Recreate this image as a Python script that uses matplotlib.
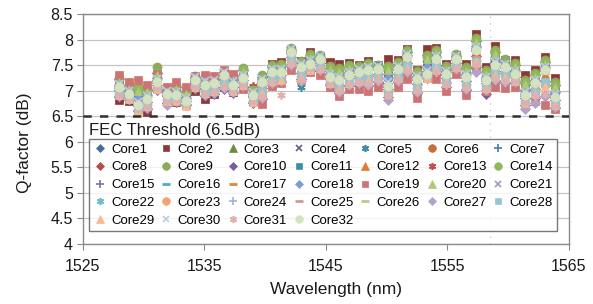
import matplotlib
matplotlib.use("Agg")
import matplotlib.pyplot as plt
import matplotlib.transforms as mtransforms

plt.rcParams["font.family"] = ["Liberation Sans", "DejaVu Sans"]

# --------------------------------------------------
# Data: Q-factor per core over 46 WDM channels (100 GHz grid)
# --------------------------------------------------
wavelength = [1527.99, 1528.77, 1529.55, 1530.33, 1531.12, 1531.90, 1532.68, 1533.47,
              1534.25, 1535.04, 1535.82, 1536.61, 1537.40, 1538.19, 1538.98, 1539.77,
              1540.56, 1541.35, 1542.14, 1542.94, 1543.73, 1544.53, 1545.32, 1546.12,
              1546.92, 1547.72, 1548.51, 1549.32, 1550.12, 1550.92, 1551.72, 1552.52,
              1553.33, 1554.13, 1554.94, 1555.75, 1556.55, 1557.36, 1558.17, 1558.98,
              1559.79, 1560.61, 1561.42, 1562.23, 1563.05, 1563.86]

core1 = [7.23,7.08,6.91,7.02,7.35,7.01,7.07,6.91,7.26,7.24,7.23,7.36,7.25,7.40,7.03,7.26,7.46,7.50,7.80,7.55,7.68,7.66,7.45,7.42,7.46,7.45,7.51,7.48,7.46,7.52,7.75,7.35,7.69,7.76,7.45,7.68,7.44,7.98,7.37,7.75,7.56,7.51,7.18,7.31,7.57,7.12]
core2 = [6.82,6.79,6.66,6.58,7.05,6.80,6.78,6.74,6.99,6.84,6.93,7.08,6.98,7.12,6.80,6.95,7.53,7.57,7.80,7.58,7.75,7.68,7.56,7.53,7.55,7.51,7.58,7.50,7.62,7.59,7.82,7.41,7.82,7.83,7.53,7.70,7.53,8.11,7.46,7.88,7.60,7.60,7.31,7.41,7.66,7.25]
core3 = [7.19,7.06,7.02,7.00,7.33,7.00,7.05,6.95,7.23,7.21,7.21,7.33,7.23,7.38,7.00,7.23,7.44,7.47,7.77,7.52,7.66,7.63,7.43,7.39,7.44,7.42,7.49,7.45,7.42,7.50,7.73,7.32,7.63,7.73,7.43,7.65,7.41,7.97,7.34,7.73,7.53,7.49,7.15,7.29,7.54,7.10]
core4 = [7.15,7.02,6.89,6.94,7.27,6.99,7.00,6.89,7.24,7.18,7.19,7.34,7.19,7.33,6.98,7.22,7.42,7.43,7.78,7.53,7.61,7.64,7.37,7.32,7.39,7.41,7.46,7.46,7.30,7.49,7.72,7.29,7.50,7.69,7.40,7.66,7.36,7.90,7.29,7.64,7.52,7.43,7.05,7.23,7.49,7.01]
core5 = [6.90,6.84,6.66,6.66,7.03,6.78,6.80,6.73,7.06,6.92,6.96,7.05,6.97,7.10,6.77,6.86,7.14,7.18,7.51,7.07,7.41,7.40,7.13,6.98,7.11,7.14,7.11,7.18,6.90,7.18,7.36,6.97,7.26,7.34,7.09,7.42,7.03,7.49,7.02,7.20,7.17,7.16,6.73,6.87,6.92,6.68]
core6 = [7.11,6.98,6.85,6.90,7.23,6.95,6.96,6.85,7.20,7.14,7.15,7.30,7.15,7.29,6.94,7.18,7.38,7.39,7.74,7.47,7.57,7.60,7.33,7.28,7.35,7.37,7.42,7.42,7.24,7.45,7.68,7.25,7.46,7.65,7.36,7.62,7.32,7.86,7.25,7.60,7.48,7.39,7.01,7.19,7.45,6.97]
core7 = [7.10,6.97,6.74,6.87,7.19,6.97,6.94,6.82,7.23,7.15,7.17,7.32,7.15,7.28,6.94,7.20,7.39,7.39,7.77,7.49,7.56,7.63,7.30,7.23,7.33,7.39,7.43,7.45,7.13,7.46,7.69,7.26,7.36,7.65,7.36,7.64,7.30,7.82,7.23,7.54,7.49,7.36,6.94,7.17,7.43,6.91]
core8 = [7.01,6.92,6.70,6.78,7.12,6.89,6.88,6.79,7.16,7.05,7.08,7.20,7.08,7.21,6.87,7.05,7.28,7.30,7.66,7.35,7.50,7.54,7.23,7.12,7.24,7.28,7.29,7.33,7.03,7.33,7.54,7.13,7.33,7.51,7.24,7.55,7.18,7.67,7.14,7.39,7.35,7.27,6.85,7.03,7.19,6.81]
core9 = [7.25,7.12,7.08,7.06,7.46,7.05,7.11,7.01,7.29,7.27,7.27,7.39,7.29,7.44,7.06,7.31,7.50,7.53,7.83,7.58,7.72,7.69,7.49,7.45,7.50,7.48,7.55,7.51,7.48,7.56,7.79,7.38,7.69,7.79,7.49,7.71,7.47,8.03,7.40,7.79,7.62,7.55,7.21,7.35,7.60,7.16]
core10 = [6.88,6.82,6.60,6.64,7.01,6.76,6.78,6.72,7.04,6.90,6.94,7.03,6.95,7.08,6.75,6.84,7.12,7.16,7.49,7.23,7.39,7.38,7.11,6.96,7.09,7.12,7.09,7.16,6.88,7.16,7.34,6.95,7.24,7.32,7.07,7.40,7.01,7.47,6.94,7.18,7.15,7.14,6.71,6.85,6.90,6.66]
core11 = [7.17,7.04,6.91,6.96,7.29,7.01,7.02,6.91,7.26,7.20,7.21,7.36,7.21,7.35,7.00,7.24,7.44,7.45,7.80,7.53,7.63,7.66,7.39,7.34,7.41,7.43,7.48,7.48,7.30,7.51,7.74,7.31,7.52,7.71,7.42,7.68,7.38,7.92,7.31,7.66,7.54,7.45,7.07,7.25,7.51,7.03]
core12 = [6.99,6.86,6.63,6.76,7.08,6.86,6.83,6.71,7.13,7.04,7.06,7.22,7.04,7.17,6.83,7.09,7.28,7.28,7.67,7.38,7.45,7.53,7.19,7.12,7.22,7.28,7.32,7.35,7.02,7.35,7.58,7.15,7.25,7.54,7.25,7.54,7.19,7.71,7.12,7.43,7.38,7.25,6.83,7.06,7.32,6.80]
core13 = [7.13,7.00,6.87,6.92,7.25,6.97,6.98,6.87,7.22,7.16,7.17,7.32,7.17,7.31,7.10,7.20,7.40,7.41,7.76,7.49,7.59,7.62,7.35,7.30,7.37,7.39,7.44,7.44,7.26,7.47,7.70,7.27,7.48,7.67,7.38,7.64,7.34,7.88,7.27,7.62,7.50,7.41,7.03,7.21,7.47,6.99]
core14 = [7.21,7.08,7.04,7.02,7.35,7.01,7.07,6.97,7.25,7.23,7.23,7.35,7.25,7.40,7.02,7.25,7.46,7.49,7.79,7.54,7.68,7.65,7.45,7.41,7.46,7.44,7.51,7.47,7.44,7.52,7.75,7.34,7.65,7.75,7.45,7.67,7.43,7.99,7.36,7.75,7.55,7.51,7.17,7.31,7.56,7.12]
core15 = [7.05,6.92,6.69,6.82,7.14,6.92,6.89,6.78,7.19,7.10,7.12,7.28,7.10,7.23,6.89,7.15,7.34,7.34,7.73,7.44,7.51,7.59,7.25,7.18,7.28,7.34,7.38,7.41,7.08,7.41,7.64,7.21,7.31,7.60,7.31,7.60,7.25,7.77,7.18,7.49,7.44,7.31,6.89,7.12,7.38,6.86]
core16 = [7.06,6.93,6.70,6.83,7.15,6.93,6.90,6.78,7.20,7.11,7.13,7.29,7.11,7.24,6.90,7.16,7.35,7.35,7.74,7.45,7.52,7.60,7.26,7.19,7.29,7.35,7.39,7.42,7.09,7.42,7.65,7.22,7.32,7.61,7.32,7.61,7.26,7.78,7.19,7.50,7.45,7.32,6.90,7.13,7.39,6.87]
core17 = [7.02,6.89,6.66,6.79,7.11,6.89,6.86,6.74,7.16,7.07,7.09,7.25,7.07,7.20,6.86,7.12,7.31,7.31,7.70,7.41,7.48,7.56,7.22,7.15,7.25,7.31,7.35,7.38,7.05,7.38,7.61,7.18,7.28,7.57,7.28,7.57,7.22,7.74,7.15,7.46,7.41,7.28,6.86,7.09,7.35,6.83]
core18 = [7.12,6.99,6.86,6.91,7.24,6.96,6.97,6.86,7.21,7.15,7.16,7.31,7.16,7.30,6.95,7.19,7.39,7.40,7.75,7.48,7.58,7.61,7.34,7.29,7.36,7.38,7.43,7.43,7.25,7.46,7.69,7.26,7.47,7.66,7.37,7.63,7.33,7.87,7.26,7.61,7.49,7.40,7.02,7.20,7.46,6.98]
core19 = [7.30,7.17,7.21,7.12,7.33,7.07,7.16,7.07,7.29,7.30,7.29,7.40,7.33,7.04,6.84,6.73,7.10,7.15,7.40,7.20,7.36,7.31,7.07,6.89,7.03,7.04,6.99,7.07,6.95,7.07,7.23,6.86,7.25,7.22,6.99,7.33,6.92,7.42,7.00,7.07,7.05,7.08,6.70,6.80,6.71,6.65]
core20 = [7.17,7.04,7.00,6.98,7.31,6.97,7.03,6.93,7.21,7.19,7.19,7.31,7.21,7.36,6.98,7.21,7.42,7.45,7.75,7.50,7.64,7.61,7.41,7.37,7.42,7.40,7.47,7.43,7.40,7.48,7.71,7.30,7.61,7.71,7.41,7.63,7.39,7.95,7.32,7.71,7.51,7.47,7.13,7.27,7.52,7.08]
core21 = [7.12,6.99,6.76,6.89,7.21,6.99,6.96,6.84,7.26,7.17,7.19,7.35,7.17,7.30,6.96,7.22,7.41,7.41,7.80,7.51,7.58,7.66,7.32,7.25,7.35,7.41,7.45,7.48,7.15,7.48,7.71,7.28,7.38,7.67,7.38,7.67,7.32,7.84,7.25,7.56,7.51,7.38,6.96,7.19,7.45,6.93]
core22 = [6.98,6.89,6.67,6.75,7.09,6.86,6.85,6.76,7.13,7.02,7.05,7.17,7.05,7.18,6.84,7.02,7.25,7.27,7.63,7.32,7.47,7.51,7.20,7.09,7.21,7.25,7.26,7.30,7.00,7.30,7.51,7.10,7.30,7.48,7.21,7.52,7.15,7.64,7.11,7.36,7.32,7.24,6.82,7.00,7.16,6.78]
core23 = [6.94,6.85,6.63,6.71,7.05,6.82,6.81,6.72,7.09,6.98,7.01,7.13,7.01,7.14,6.80,6.98,7.21,7.23,7.59,7.28,7.43,7.47,7.16,7.05,7.17,7.21,7.22,7.26,6.96,7.26,7.47,7.06,7.26,7.44,7.17,7.48,7.11,7.60,7.07,7.32,7.28,7.20,6.78,6.96,7.12,6.74]
core24 = [7.09,6.96,6.73,6.86,7.18,6.96,6.93,6.81,7.23,7.14,7.16,7.32,7.14,7.27,6.93,7.19,7.38,7.38,7.77,7.48,7.55,7.63,7.29,7.22,7.32,7.38,7.42,7.45,7.12,7.45,7.68,7.25,7.35,7.64,7.35,7.64,7.29,7.81,7.22,7.53,7.48,7.35,6.93,7.16,7.42,6.90]
core25 = [7.00,6.91,6.69,6.77,7.11,6.88,6.87,6.78,7.15,7.04,7.07,7.19,7.07,7.20,6.86,7.04,7.27,7.29,7.65,7.34,7.49,7.53,7.22,7.11,7.23,7.27,7.28,7.32,7.02,7.32,7.53,7.12,7.32,7.50,7.23,7.54,7.17,7.66,7.13,7.38,7.34,7.26,6.84,7.02,7.18,6.80]
core26 = [7.04,6.91,6.68,6.81,7.13,6.91,6.88,6.76,7.18,7.09,7.11,7.27,7.09,7.22,6.88,7.14,7.33,7.33,7.72,7.43,7.50,7.58,7.24,7.17,7.27,7.33,7.37,7.40,7.07,7.40,7.63,7.20,7.30,7.59,7.30,7.59,7.24,7.76,7.17,7.48,7.43,7.30,6.88,7.11,7.37,6.85]
core27 = [6.90,6.84,6.63,6.66,7.03,6.71,6.80,6.73,7.06,6.92,6.96,7.05,6.97,7.10,6.77,6.86,7.14,7.18,7.51,7.19,7.41,7.40,7.13,6.98,7.11,7.14,7.11,7.18,6.82,7.18,7.36,6.97,7.26,7.40,7.14,7.42,7.03,7.36,7.02,7.20,7.17,7.16,6.65,6.75,6.89,6.68]
core28 = [6.96,6.87,6.65,6.73,7.07,6.84,6.83,6.74,7.11,7.00,7.03,7.15,7.03,7.16,6.82,7.00,7.23,7.25,7.61,7.30,7.45,7.49,7.18,7.07,7.19,7.23,7.24,7.28,6.98,7.28,7.49,7.08,7.28,7.46,7.19,7.50,7.13,7.57,7.09,7.34,7.30,7.22,6.80,6.98,7.17,6.76]
core29 = [6.92,6.83,6.61,6.69,7.03,6.80,6.79,6.70,7.07,6.96,6.99,7.11,6.99,7.12,6.78,6.96,7.19,7.21,7.57,7.26,7.41,7.45,7.14,7.03,7.15,7.19,7.20,7.24,6.94,7.24,7.45,7.04,7.24,7.42,7.15,7.46,7.09,7.58,7.05,7.30,7.26,7.18,6.76,6.94,7.10,6.72]
core30 = [7.13,7.00,6.77,6.90,7.22,7.00,6.97,6.85,7.27,7.18,7.20,7.36,7.18,7.31,6.97,7.23,7.42,7.42,7.81,7.52,7.59,7.67,7.33,7.26,7.36,7.42,7.46,7.49,7.16,7.49,7.72,7.29,7.39,7.68,7.39,7.68,7.33,7.85,7.26,7.57,7.52,7.39,6.97,7.20,7.46,6.94]
core31 = [6.92,6.86,6.65,6.68,7.05,6.80,6.82,6.75,7.08,6.94,6.98,7.07,6.99,7.12,6.79,6.88,7.16,6.91,7.53,7.21,7.43,7.42,7.15,7.00,7.13,7.16,7.13,7.20,6.92,7.20,7.38,6.99,7.28,7.36,7.11,7.44,7.05,7.51,7.04,7.22,7.19,7.18,6.75,6.89,6.94,6.70]
core32 = [7.07,6.94,6.71,6.84,7.16,6.94,6.91,6.79,7.21,7.12,7.14,7.30,7.12,7.25,6.91,7.17,7.36,7.36,7.75,7.46,7.53,7.61,7.27,7.20,7.30,7.36,7.40,7.43,7.10,7.43,7.66,7.23,7.33,7.62,7.33,7.62,7.27,7.79,7.20,7.51,7.46,7.33,6.91,7.14,7.40,6.88]

cores = [core1, core2, core3, core4, core5, core6, core7, core8, core9, core10,
         core11, core12, core13, core14, core15, core16, core17, core18, core19, core20,
         core21, core22, core23, core24, core25, core26, core27, core28, core29, core30,
         core31, core32]
labels = ["Core%d" % (i + 1) for i in range(len(cores))]

FEC_THRESHOLD = 6.5
AUX_LINE_X = 1558.55   # faint secondary-axis line seen in the original

# --------------------------------------------------
# Marker styles (Excel-like)
# --------------------------------------------------
STAR = (6, 2, 0)
markers = ["D", "s", "^", "x", STAR, "o", "+", "D", "o", "D",
           "s", "^", STAR, "o", "+", "_", "_", "D", "s", "^",
           "x", STAR, "o", "+", "_", "_", "D", "s", "^", "x",
           STAR, "o"]
colors = ["#456b9f", "#8c3836", "#6e8b3d", "#6e5a8e", "#3c8da3", "#c0703a", "#4f78b0", "#b84a48",
          "#8daa58", "#7a5c98", "#3e8fa6", "#e07b30", "#c0504d", "#92b75a", "#8470a8", "#4bacc6",
          "#f08030", "#7b9ed4", "#cd7371", "#afc97a", "#a795c0", "#6fbdd1", "#f4a36a", "#9db5dd",
          "#d99694", "#b5cc8c", "#b3a2c7", "#93c6d6", "#f8ba90", "#b9cde5", "#e0b0ae", "#d4e2c0"]
sizes = {"D": 5.0, "s": 5.5, "^": 6.0, "x": 5.5, "o": 6.5, "+": 6.5, "_": 6.0}

# --------------------------------------------------
# Plot
# --------------------------------------------------
fig = plt.figure(figsize=(5.93, 3.04), dpi=100)
ax = fig.add_axes([0.1395, 0.1974, 0.8192, 0.7566])

ax.set_axisbelow(True)
ax.grid(axis="y", color="#c4c4c4", linewidth=0.9)
ax.axvline(AUX_LINE_X, color="#b8b8b8", linewidth=0.8, linestyle=(0, (1, 5)), zorder=1)

handles = []
for vals, lab, m, c in zip(cores, labels, markers, colors):
    ms = sizes.get(m, 6.0)
    mew = 1.2 if m in ("x", "+", STAR) else (2.0 if m == "_" else 0.5)
    h, = ax.plot(wavelength, vals, linestyle="none", marker=m, markersize=ms,
                 color=c, markeredgecolor=c, markeredgewidth=mew, label=lab, zorder=3)
    handles.append(h)

ax.axhline(FEC_THRESHOLD, color="#303030", linewidth=1.8,
           linestyle=(0, (3.3, 3.3)), zorder=4)

trans = mtransforms.blended_transform_factory(ax.transAxes, ax.transData)
ax.text(0.0136, 6.13, "FEC Threshold (6.5dB)", transform=trans,
        fontsize=12, va="baseline", ha="left", color="#1a1a1a")

ax.set_xlim(1525, 1565)
ax.set_ylim(4, 8.5)
ax.set_xticks([1525, 1535, 1545, 1555, 1565])
yt = [4 + 0.5 * i for i in range(10)]
ax.set_yticks(yt)
ax.set_yticklabels(["%g" % v for v in yt])

for s in ax.spines.values():
    s.set_color("#8a8a8a")
    s.set_linewidth(1.0)
ax.tick_params(axis="both", direction="out", length=4, color="#8a8a8a",
               labelsize=11.5, labelcolor="#1a1a1a")
ax.tick_params(axis="x", pad=7)
ax.tick_params(axis="y", pad=3)

ax.set_xlabel("Wavelength (nm)", fontsize=12.5, color="#1a1a1a")
ax.set_ylabel("Q-factor (dB)", fontsize=12.5, color="#1a1a1a")
ax.xaxis.set_label_coords(0.522, -0.165)
ax.yaxis.set_label_coords(-0.105, 0.44)

# legend reads row by row (Core1..Core7 on the first row)
NCOL, NROW = 7, 5
order = [r * NCOL + c for c in range(NCOL) for r in range(NROW) if r * NCOL + c < len(handles)]
leg = ax.legend([handles[i] for i in order], [labels[i] for i in order],
                ncol=NCOL, loc="lower left", bbox_to_anchor=(0.0136, 0.058, 0.962, 0.397),
                mode="expand", fontsize=9.5, frameon=True, fancybox=False,
                borderpad=0.3, labelspacing=0.42, handlelength=1.0,
                handletextpad=0.35, borderaxespad=0, markerscale=0.85)
leg.get_frame().set_edgecolor("#555555")
leg.get_frame().set_linewidth(1.0)
leg.set_zorder(5)

fig.savefig("out.png", dpi=100)
